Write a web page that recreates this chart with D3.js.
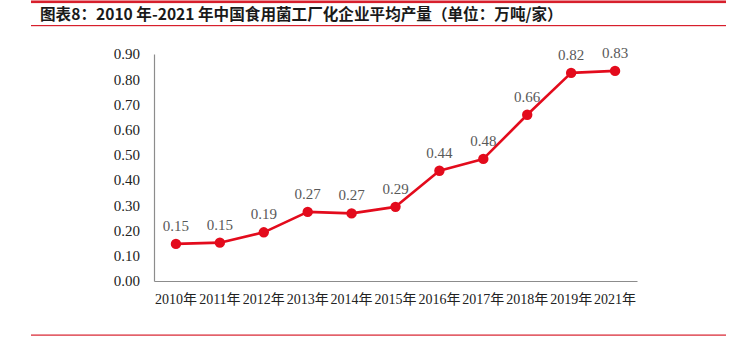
<!DOCTYPE html>
<html>
<head>
<meta charset="utf-8">
<script src="https://cdn.jsdelivr.net/npm/d3@7/dist/d3.min.js"></script>
<style>
  html, body { margin: 0; padding: 0; background: #fff; }
  svg { display: block; }
</style>
</head>
<body>
<svg id="chart" width="733" height="341"></svg>
<script>
// Average output per factory-farmed edible fungi enterprise (10k tonnes per enterprise)
const years = ["2010年", "2011年", "2012年", "2013年", "2014年", "2015年",
               "2016年", "2017年", "2018年", "2019年", "2021年"];
const output = [0.147, 0.152, 0.193, 0.274, 0.268, 0.294, 0.437, 0.484, 0.659, 0.825, 0.833];
const yTicks = [0, 0.1, 0.2, 0.3, 0.4, 0.5, 0.6, 0.7, 0.8, 0.9];
const title = "图表8：2010 年-2021 年中国食用菌工厂化企业平均产量（单位：万吨/家）";

const svg = d3.select("#chart");
const W = 733, H = 341;
const margin = { left: 154, right: 96, top: 54, bottom: 60 };
const red = "#d71f2c";
const serif = "'Liberation Serif', 'Times New Roman', 'Noto Sans CJK SC', serif";

// Header and footer rules
svg.append("rect").attr("x", 31).attr("y", 0.5).attr("width", 695).attr("height", 2.6).attr("fill", red);
svg.append("rect").attr("x", 31).attr("y", 25).attr("width", 695).attr("height", 1.2).attr("fill", red);
svg.append("rect").attr("x", 31).attr("y", 334.5).attr("width", 695).attr("height", 1.2).attr("fill", red);

svg.append("text")
  .attr("x", 40).attr("y", 20)
  .attr("font-family", "'Noto Sans CJK SC', sans-serif")
  .attr("font-weight", "bold")
  .attr("font-size", 15.6)
  .attr("fill", "#1a1a1a")
  .text(title);

const x = d3.scaleBand()
  .domain(years)
  .range([margin.left, W - margin.right])
  .paddingInner(0).paddingOuter(0);

const y = d3.scaleLinear()
  .domain([0, 0.9])
  .range([H - margin.bottom, margin.top]);

// Y axis
const yAxis = svg.append("g")
  .attr("transform", `translate(${margin.left},0)`)
  .call(d3.axisLeft(y).tickValues(yTicks).tickSize(0).tickPadding(14).tickFormat(d3.format(".2f")));
yAxis.select(".domain").attr("stroke", "#8c8c8c").attr("stroke-width", 1.2);
yAxis.selectAll("text")
  .attr("font-family", serif).attr("font-size", 15).attr("fill", "#222");

// X axis
const xAxis = svg.append("g")
  .attr("transform", `translate(0,${H - margin.bottom})`)
  .call(d3.axisBottom(x).tickSize(0).tickPadding(13));
xAxis.select(".domain").attr("stroke", "#8c8c8c").attr("stroke-width", 1.2);
xAxis.selectAll("text")
  .attr("font-family", serif).attr("font-size", 14).attr("fill", "#222");

const cx = d => x(d) + x.bandwidth() / 2;

// Line and markers
svg.append("path")
  .datum(output)
  .attr("fill", "none")
  .attr("stroke", "#e30b1c")
  .attr("stroke-width", 2.6)
  .attr("stroke-linejoin", "round")
  .attr("d", d3.line().x((d, i) => cx(years[i])).y(d => y(d)));

svg.selectAll("circle.pt")
  .data(output)
  .join("circle")
  .attr("class", "pt")
  .attr("cx", (d, i) => cx(years[i]))
  .attr("cy", d => y(d))
  .attr("r", 5.2)
  .attr("fill", "#e30b1c");

// Value labels
svg.selectAll("text.val")
  .data(output)
  .join("text")
  .attr("class", "val")
  .attr("x", (d, i) => cx(years[i]))
  .attr("y", d => y(d) - 13)
  .attr("text-anchor", "middle")
  .attr("font-family", serif)
  .attr("font-size", 15)
  .attr("fill", "#595959")
  .text(d => d3.format(".2f")(d));
</script>
</body>
</html>
